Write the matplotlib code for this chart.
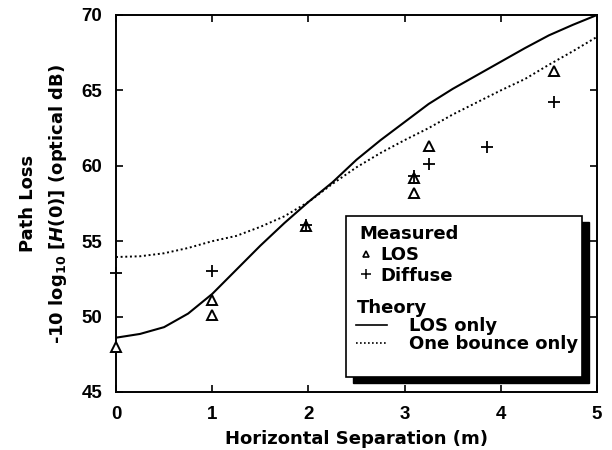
import matplotlib
matplotlib.use('Agg')
import matplotlib.pyplot as plt
from matplotlib.lines import Line2D
from matplotlib.patches import Rectangle

plt.rcParams['font.family'] = ['DejaVu Sans']
plt.rcParams['font.weight'] = 'bold'
plt.rcParams['mathtext.fontset'] = 'custom'
plt.rcParams['mathtext.rm'] = 'DejaVu Sans:bold'
plt.rcParams['mathtext.bf'] = 'DejaVu Sans:bold'
plt.rcParams['mathtext.it'] = 'DejaVu Sans:bold:italic'
plt.rcParams['mathtext.default'] = 'bf'

# --- measured points ---
los_x = [0.0, 1.0, 1.0, 1.98, 3.10, 3.10, 3.25, 4.55]
los_y = [48.0, 51.1, 50.1, 56.0, 59.2, 58.2, 61.3, 66.3]
diffuse_x = [0.0, 1.0, 1.98, 3.10, 3.25, 3.86, 4.55]
diffuse_y = [52.9, 53.0, 56.1, 59.3, 60.1, 61.25, 64.2]

# --- theory curves ---
theory_x = [0.0, 0.25, 0.5, 0.75, 1.0, 1.25, 1.5, 1.75, 2.0, 2.25, 2.5,
            2.75, 3.0, 3.25, 3.5, 3.75, 4.0, 4.25, 4.5, 4.75, 5.0]
los_only = [48.6, 48.85, 49.3, 50.2, 51.5, 53.1, 54.7, 56.2, 57.6, 58.9, 60.4,
            61.7, 62.9, 64.1, 65.1, 66.0, 66.9, 67.8, 68.65, 69.35, 70.0]
one_bounce = [53.95, 54.0, 54.2, 54.55, 55.0, 55.35, 55.95, 56.65, 57.6, 58.8, 59.9,
              60.85, 61.7, 62.5, 63.4, 64.2, 65.0, 65.75, 66.7, 67.6, 68.55]

x_ticks = [0, 1, 2, 3, 4, 5]
y_ticks = [45, 50, 55, 60, 65, 70]

fig = plt.figure(figsize=(6.12, 4.5), dpi=100)
ax = fig.add_axes([0.1895, 0.1289, 0.786, 0.8378])

ax.plot(theory_x, los_only, color='black', lw=1.5, zorder=2)
ax.plot(theory_x, one_bounce, color='black', lw=1.4, ls=(0, (1, 1.4)), zorder=2)
ax.plot(los_x, los_y, ls='none', marker='^', ms=6.5, mfc='white', mec='black',
        mew=1.4, clip_on=False, zorder=4)
ax.plot(diffuse_x, diffuse_y, ls='none', marker='+', ms=8, mec='black',
        mew=1.3, clip_on=False, zorder=4)

ax.set_xlim(0, 5)
ax.set_ylim(45, 70)
ax.set_xticks(x_ticks)
ax.set_yticks(y_ticks)
ax.tick_params(direction='in', length=5, width=1.2, labelsize=13.5, pad=10,
               top=True, right=True)
for lbl in ax.get_xticklabels() + ax.get_yticklabels():
    lbl.set_fontfamily('Liberation Sans')
for s in ax.spines.values():
    s.set_linewidth(1.4)

ax.set_xlabel('Horizontal Separation (m)', fontsize=13, fontweight='bold', labelpad=5)
ax.set_ylabel('Path Loss\n-10 log$_{10}$ [$\\mathit{H}$(0)] (optical dB)',
              fontsize=13, fontweight='bold', labelpad=9, linespacing=1.6)

# legend frame with black drop shadow
bx0, by0, bw, bh = 0.478, 0.040, 0.491, 0.427
ax.add_patch(Rectangle((bx0 + 0.0146, by0 - 0.016), bw, bh, transform=ax.transAxes,
                       facecolor='black', edgecolor='black', clip_on=False, zorder=5))
ax.add_patch(Rectangle((bx0, by0), bw, bh, transform=ax.transAxes,
                       facecolor='white', edgecolor='black', lw=1.2,
                       clip_on=False, zorder=6))

meas_handles = [
    Line2D([], [], ls='none', marker='^', ms=5, mfc='white', mec='black', mew=1.2),
    Line2D([], [], ls='none', marker='+', ms=7, mec='black', mew=1.1),
]
leg1 = ax.legend(meas_handles, ['LOS', 'Diffuse'], loc='upper left',
                 bbox_to_anchor=(0.507, 0.442), frameon=False, fontsize=13,
                 title='Measured', title_fontproperties={'weight': 'bold', 'size': 13},
                 alignment='left', handlelength=0.7, handletextpad=0.45,
                 labelspacing=0.15, borderpad=0, borderaxespad=0)
leg1.set_zorder(7)
ax.add_artist(leg1)

theory_handles = [
    Line2D([], [], color='black', lw=1.2),
    Line2D([], [], color='black', lw=1.2, ls=(0, (1, 1.4))),
]
leg2 = ax.legend(theory_handles, ['LOS only', 'One bounce only'], loc='upper left',
                 bbox_to_anchor=(0.500, 0.246), frameon=False, fontsize=13,
                 title='Theory', title_fontproperties={'weight': 'bold', 'size': 13},
                 alignment='left', handlelength=1.7, handletextpad=1.2,
                 labelspacing=0.0, borderpad=0, borderaxespad=0)
leg2.set_zorder(7)

fig.savefig('out.png', dpi=100)
